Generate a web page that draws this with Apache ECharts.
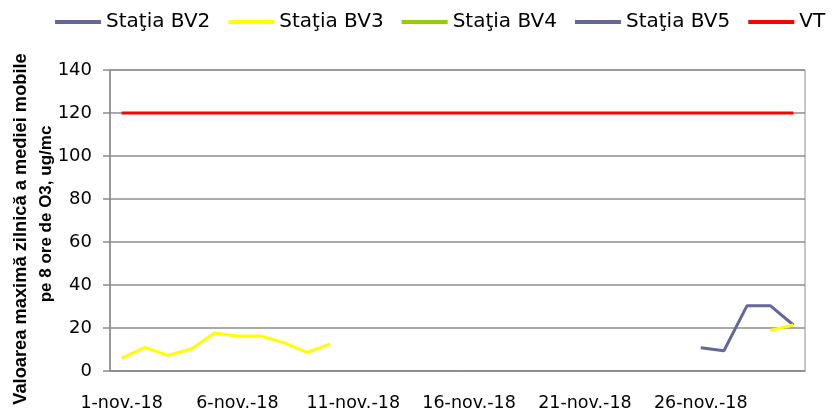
<!DOCTYPE html>
<html>
<head>
<meta charset="utf-8">
<script src="https://cdn.jsdelivr.net/npm/echarts@6/dist/echarts.min.js"></script>
<style>
  html, body { margin: 0; padding: 0; background: #fff; }
  #chart { width: 832px; height: 408px; }
</style>
</head>
<body>
<div id="chart"></div>
<script>
// zilele lunii (axa X)
const categories = [
  '1-nov.-18', '2-nov.-18', '3-nov.-18', '4-nov.-18', '5-nov.-18',
  '6-nov.-18', '7-nov.-18', '8-nov.-18', '9-nov.-18', '10-nov.-18',
  '11-nov.-18', '12-nov.-18', '13-nov.-18', '14-nov.-18', '15-nov.-18',
  '16-nov.-18', '17-nov.-18', '18-nov.-18', '19-nov.-18', '20-nov.-18',
  '21-nov.-18', '22-nov.-18', '23-nov.-18', '24-nov.-18', '25-nov.-18',
  '26-nov.-18', '27-nov.-18', '28-nov.-18', '29-nov.-18', '30-nov.-18'
]

const _ = null
const bv2 = [_, _, _, _, _, _, _, _, _, _, _, _, _, _, _, _, _, _, _, _, _, _, _, _, _, 10.8, 9.4, 30.4, 30.4, 21.4]
const bv3 = [6, 11, 7.3, 10.2, 17.7, 16.3, 16.3, 13.2, 8.7, 12.6, _, _, _, _, _, _, _, _, _, _, _, _, _, _, _, _, _, _, 18.9, 21.4]
const bv4 = [_, _, _, _, _, _, _, _, _, _, _, _, _, _, _, _, _, _, _, _, _, _, _, _, _, _, _, _, _, _]
const bv5 = [_, _, _, _, _, _, _, _, _, _, _, _, _, _, _, _, _, _, _, _, _, _, _, _, _, _, _, _, _, _]
const vt = [120, 120, 120, 120, 120, 120, 120, 120, 120, 120, 120, 120, 120, 120, 120,
  120, 120, 120, 120, 120, 120, 120, 120, 120, 120, 120, 120, 120, 120, 120]

// titlul axei Y, pe doua randuri
const yTitle1 = 'Valoarea maximă zilnică a mediei mobile'
const yTitle2 = 'pe 8 ore de O3, ug/mc'

const gray = '#8c8c8c'

function lineSeries(name, data, color) {
  return {
    name: name,
    type: 'line',
    data: data,
    symbol: 'none',
    connectNulls: false,
    lineStyle: { color: color, width: 3 },
    itemStyle: { color: color }
  }
}

const chart = echarts.init(document.getElementById('chart'))

chart.setOption({
  animation: false,
  legend: {
    left: 55,
    top: 12,
    width: 800,
    padding: 0,
    icon: 'rect',
    itemWidth: 46,
    itemHeight: 4,
    itemGap: 18,
    textStyle: { fontFamily: 'DejaVu Sans', fontSize: 20, color: '#000' }
  },
  grid: {
    left: 110,
    right: 27,
    top: 70,
    bottom: 37,
    containLabel: false,
    outerBoundsMode: 'none',
    show: true,
    borderColor: gray,
    borderWidth: 1
  },
  graphic: [
    {
      type: 'text',
      x: 21,
      y: 229,
      rotation: Math.PI / 2,
      style: {
        text: yTitle1,
        fontFamily: 'Liberation Sans',
        fontWeight: 'bold',
        fontSize: 18.3,
        fill: '#000',
        align: 'center',
        verticalAlign: 'middle'
      }
    },
    {
      type: 'text',
      x: 46,
      y: 214,
      rotation: Math.PI / 2,
      style: {
        text: yTitle2,
        fontFamily: 'Liberation Sans',
        fontWeight: 'bold',
        fontSize: 17,
        fill: '#000',
        align: 'center',
        verticalAlign: 'middle'
      }
    }
  ],
  xAxis: {
    type: 'category',
    data: categories,
    boundaryGap: true,
    axisLine: { lineStyle: { color: gray, width: 1.5 } },
    axisTick: { interval: 4, length: 7, lineStyle: { color: gray, width: 1.5 } },
    axisLabel: {
      interval: 4,
      margin: 23,
      fontFamily: 'DejaVu Sans',
      fontSize: 17.5,
      color: '#000'
    },
    splitLine: { show: false }
  },
  yAxis: {
    type: 'value',
    min: 0,
    max: 140,
    interval: 20,
    axisLine: { show: true, lineStyle: { color: gray, width: 1.5 } },
    axisTick: { show: true, length: 7, lineStyle: { color: gray, width: 1.5 } },
    axisLabel: {
      margin: 18,
      fontFamily: 'DejaVu Sans',
      fontSize: 18,
      color: '#000'
    },
    splitLine: { lineStyle: { color: gray, width: 1.5 } }
  },
  series: [
    lineSeries('Staţia BV2', bv2, '#666699'),
    lineSeries('Staţia BV3', bv3, '#ffff00'),
    lineSeries('Staţia BV4', bv4, '#99cc00'),
    lineSeries('Staţia BV5', bv5, '#666699'),
    lineSeries('VT', vt, '#ff0000')
  ]
})
</script>
</body>
</html>
